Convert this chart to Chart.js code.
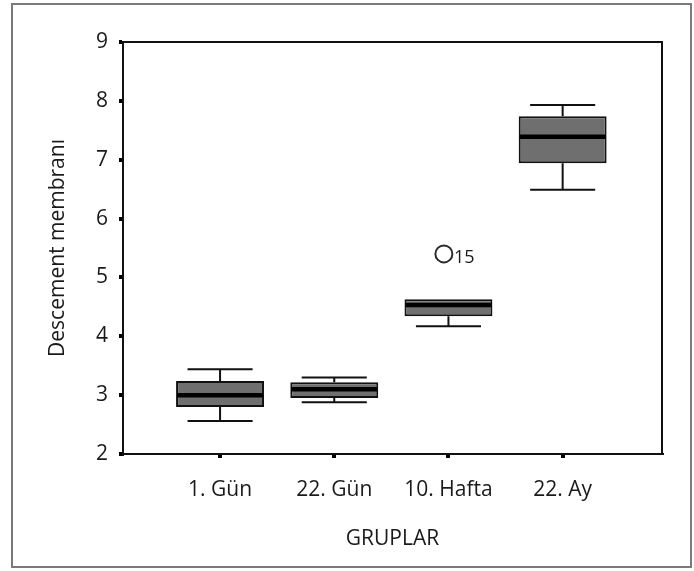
<!DOCTYPE html>
<html>
<head>
<meta charset="utf-8">
<script src="https://cdn.jsdelivr.net/npm/chart.js@4.4.1/dist/chart.umd.min.js"></script>
<style>
  html, body { margin: 0; padding: 0; background: #fff; }
  #wrap { position: relative; width: 694px; height: 571px; }
  #frame { position: absolute; left: 11px; top: 3px; width: 677px; height: 561px; border: 2px solid #7a7a7a; }
  canvas { position: absolute; left: 0; top: 0; }
</style>
</head>
<body>
<div id="wrap">
  <div id="frame"></div>
  <canvas id="boxChart" width="694" height="571"></canvas>
</div>
<script>
// box plot values
const categories = ["1. Gün", "22. Gün", "10. Hafta", "22. Ay"];
const mins    = [2.56, 2.88, 4.17, 6.49];
const q1      = [2.80, 2.95, 4.34, 6.94];
const medians = [3.00, 3.10, 4.53, 7.39];
const q3      = [3.24, 3.22, 4.63, 7.74];
const maxs    = [3.44, 3.30, 4.63, 7.93];

// outlier case 15 in "10. Hafta"
const outlierGroup = [2.96];
const outlierValue = [5.40];
const outlierLabel = ["15"];

const yTicks = [2, 3, 4, 5, 6, 7, 8, 9];

const FONT = "'Open Sans', 'DejaVu Sans', sans-serif";
const INK = "#1a1a1a";

const boxPlotPlugin = {
    id: "boxPlot",
    afterDatasetsDraw(chart) {
        const ctx = chart.ctx;
        const yScale = chart.scales.y;
        const meta = chart.getDatasetMeta(0);
        ctx.save();
        ctx.strokeStyle = "#111";
        meta.data.forEach((bar, i) => {
            const { x, width } = bar.getProps(["x", "width"], true);
            const capHalf = width * 0.37;
            const yMin = yScale.getPixelForValue(mins[i]);
            const yMax = yScale.getPixelForValue(maxs[i]);
            const yQ1 = yScale.getPixelForValue(q1[i]);
            const yQ3 = yScale.getPixelForValue(q3[i]);
            const yMed = yScale.getPixelForValue(medians[i]);

            ctx.lineWidth = 2;
            ctx.beginPath();
            if (maxs[i] > q3[i]) {
                ctx.moveTo(x, yQ3);
                ctx.lineTo(x, yMax);
                ctx.moveTo(x - capHalf, yMax);
                ctx.lineTo(x + capHalf, yMax);
            }
            if (mins[i] < q1[i]) {
                ctx.moveTo(x, yQ1);
                ctx.lineTo(x, yMin);
                ctx.moveTo(x - capHalf, yMin);
                ctx.lineTo(x + capHalf, yMin);
            }
            ctx.stroke();

            ctx.lineWidth = 4.5;
            ctx.strokeStyle = "#000";
            ctx.beginPath();
            ctx.moveTo(x - width / 2 + 1, yMed);
            ctx.lineTo(x + width / 2 - 1, yMed);
            ctx.stroke();
            ctx.strokeStyle = "#111";
        });

        // outlier case number
        const pts = chart.getDatasetMeta(1).data;
        ctx.fillStyle = INK;
        ctx.font = "18px " + FONT;
        ctx.textBaseline = "alphabetic";
        ctx.textAlign = "left";
        pts.forEach((p, i) => {
            ctx.fillText(outlierLabel[i], p.x + 10, p.y + 9);
        });

        // plot frame
        const a = chart.chartArea;
        ctx.lineWidth = 2;
        ctx.strokeStyle = "#111";
        ctx.strokeRect(a.left, a.top, a.right - a.left, a.bottom - a.top);
        ctx.restore();
    }
};

const ctx = document.getElementById("boxChart").getContext("2d");

new Chart(ctx, {
    type: "bar",
    data: {
        datasets: [
            {
                label: "Descement membranı",
                data: categories.map((c, i) => ({ x: i + 1, y: [q1[i], q3[i]] })),
                backgroundColor: "#6f6f6f",
                borderColor: "#111",
                borderWidth: 2,
                borderSkipped: false,
                barPercentage: 0.77,
                categoryPercentage: 1
            },
            {
                type: "scatter",
                label: "Outlier",
                data: outlierGroup.map((g, i) => ({ x: g, y: outlierValue[i] })),
                pointStyle: "circle",
                pointRadius: 8.5,
                borderWidth: 2,
                borderColor: "#2a2a2a",
                backgroundColor: "rgba(0,0,0,0)"
            }
        ]
    },
    options: {
        responsive: false,
        animation: false,
        events: [],
        layout: { padding: { left: 0, top: 42, right: 32, bottom: 0 } },
        plugins: {
            legend: { display: false },
            tooltip: { enabled: false }
        },
        scales: {
            x: {
                type: "linear",
                min: 0.15,
                max: 4.87,
                offset: false,
                afterBuildTicks: (scale) => {
                    scale.ticks = categories.map((c, i) => ({ value: i + 1 }));
                },
                afterFit: (scale) => { scale.height = 117; },
                ticks: {
                    autoSkip: false,
                    maxRotation: 0,
                    padding: 19,
                    color: INK,
                    font: { family: FONT, size: 21 },
                    callback: (v) => categories[v - 1]
                },
                grid: {
                    offset: false,
                    drawOnChartArea: false,
                    drawTicks: true,
                    tickLength: 4,
                    lineWidth: 4,
                    color: "#000"
                },
                border: { display: true, color: "#111", width: 2 },
                title: {
                    display: true,
                    text: "GRUPLAR",
                    color: INK,
                    font: { family: FONT, size: 21 },
                    padding: { top: 0, bottom: 19 }
                }
            },
            y: {
                min: 2,
                max: 9,
                afterBuildTicks: (scale) => {
                    scale.ticks = yTicks.map(v => ({ value: v }));
                },
                afterFit: (scale) => { scale.width = 123; },
                ticks: {
                    padding: 11,
                    color: INK,
                    font: { family: FONT, size: 21 }
                },
                grid: {
                    drawOnChartArea: false,
                    drawTicks: true,
                    tickLength: 4,
                    lineWidth: 4,
                    color: "#000"
                },
                border: { display: true, color: "#111", width: 2 },
                title: {
                    display: true,
                    text: "Descement membranı",
                    color: INK,
                    font: { family: FONT, size: 21 },
                    padding: { top: 45, bottom: 0 }
                }
            }
        }
    },
    plugins: [boxPlotPlugin]
});
</script>
</body>
</html>
